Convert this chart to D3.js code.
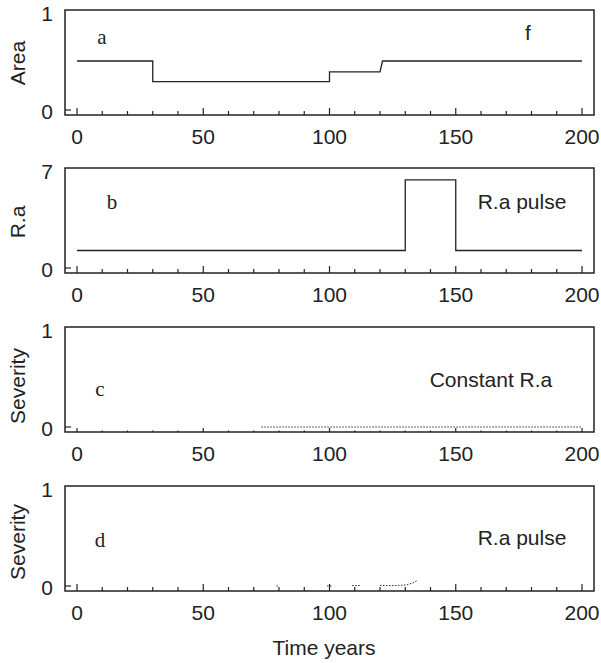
<!DOCTYPE html>
<html>
<head>
<meta charset="utf-8">
<script src="https://cdn.jsdelivr.net/npm/d3@7"></script>
<style>
  body { margin: 0; background: #fff; }
  svg { display: block; }
  .frame { fill: none; stroke: #222; stroke-width: 1.5; }
  .series { fill: none; stroke: #222; stroke-width: 1.3; }
  .trace { fill: none; stroke: #333; stroke-width: 1; stroke-dasharray: 1.5 1.5; }
  text { fill: #222; }
  .sans { font-family: "Liberation Sans", Arial, Helvetica, sans-serif; font-size: 21px; }
  .serif { font-family: "Liberation Serif", "Times New Roman", serif; font-size: 21px; }
</style>
</head>
<body>
<svg id="chart" width="601" height="663"></svg>
<script>
// Data
const xTicks = [0, 50, 100, 150, 200];
const minorTicks = d3.range(0, 201, 10);

// (a) area through time
const areaTime = [0, 30, 30, 100, 100, 120, 121, 200];
const areaValue = [0.5, 0.5, 0.29, 0.29, 0.39, 0.39, 0.5, 0.5];

// (b) R.a pulse
const raTime = [0, 130, 130, 150, 150, 200];
const raValue = [1.25, 1.25, 6.3, 6.3, 1.25, 1.25];

// (c) severity, constant R.a (near-zero trace)
const sevConstTime = [73, 200];
const sevConstValue = [0, 0];

// (d) severity, R.a pulse (short near-zero fragments)
const sevPulseSegments = [
  { time: [79, 80], value: [0, 0] },
  { time: [99, 101], value: [0, 0] },
  { time: [109, 112], value: [0.005, 0.005] },
  { time: [120, 126, 130, 133, 135], value: [0.005, 0.005, 0.01, 0.03, 0.06] }
];

const panels = [
  { top: 10, yMax: 1, yTitle: 'Area', titleY: 63, tick: [7, 4] },
  { top: 168, yMax: 7, yTitle: 'R.a', titleY: 222, tick: [7, 4] },
  { top: 327, yMax: 1, yTitle: 'Severity', titleY: 386, tick: [4, 1.5] },
  { top: 486, yMax: 1, yTitle: 'Severity', titleY: 542, tick: [7, 4] }
];

const PANEL_H = 105;
const BOX_LEFT = 65;
const BOX_RIGHT = 594;

const svg = d3.select('#chart');
const x = d3.scaleLinear().domain([0, 200]).range([77, 582]);

function drawPanel(p) {
  const bottom = p.top + PANEL_H;
  const y = d3.scaleLinear().domain([0, p.yMax]).range([bottom - 5, p.top + 2]);
  const g = svg.append('g');

  g.append('rect').attr('class', 'frame')
    .attr('x', BOX_LEFT).attr('y', p.top)
    .attr('width', BOX_RIGHT - BOX_LEFT).attr('height', PANEL_H);

  // x ticks, drawn inward from the bottom edge
  g.selectAll('.xt').data(minorTicks).join('line')
    .attr('x1', d => x(d)).attr('x2', d => x(d))
    .attr('y1', bottom)
    .attr('y2', d => bottom - (d % 50 === 0 ? p.tick[0] : p.tick[1]))
    .attr('stroke', '#222').attr('stroke-width', 1.2);

  g.selectAll('.xl').data(xTicks).join('text')
    .attr('class', 'sans')
    .attr('x', d => x(d)).attr('y', bottom + 29)
    .attr('text-anchor', 'middle')
    .text(d => d);

  // y: zero tick and two end labels
  g.append('line')
    .attr('x1', BOX_LEFT).attr('x2', BOX_LEFT + 6)
    .attr('y1', y(0)).attr('y2', y(0))
    .attr('stroke', '#222').attr('stroke-width', 1.2);

  g.selectAll('.yl').data([0, p.yMax]).join('text')
    .attr('class', 'sans')
    .attr('x', 53).attr('y', d => y(d) + 1)
    .attr('text-anchor', 'end')
    .attr('dominant-baseline', 'central')
    .text(d => d);

  g.append('text')
    .attr('class', 'sans')
    .attr('transform', `translate(25,${p.titleY}) rotate(-90)`)
    .attr('text-anchor', 'middle')
    .text(p.yTitle);

  return { g, y };
}

const line = (y) => d3.line().x(d => x(d[0])).y(d => y(d[1]));

// (a)
let pa = drawPanel(panels[0]);
pa.g.append('path').attr('class', 'series')
  .attr('d', line(pa.y)(d3.zip(areaTime, areaValue)));
pa.g.append('text').attr('class', 'serif').attr('x', 102).attr('y', 44)
  .attr('text-anchor', 'middle').text('a');
pa.g.append('text').attr('class', 'sans').attr('x', 528).attr('y', 40)
  .attr('text-anchor', 'middle').text('f');

// (b)
let pb = drawPanel(panels[1]);
pb.g.append('path').attr('class', 'series')
  .attr('d', line(pb.y)(d3.zip(raTime, raValue)));
pb.g.append('text').attr('class', 'serif').attr('x', 112).attr('y', 209)
  .attr('text-anchor', 'middle').text('b');
pb.g.append('text').attr('class', 'sans').attr('x', 522).attr('y', 209)
  .attr('text-anchor', 'middle').text('R.a pulse');

// (c)
let pc = drawPanel(panels[2]);
pc.g.append('path').attr('class', 'trace')
  .attr('d', line(pc.y)(d3.zip(sevConstTime, sevConstValue)));
pc.g.append('text').attr('class', 'serif').attr('x', 100).attr('y', 396)
  .attr('text-anchor', 'middle').text('c');
pc.g.append('text').attr('class', 'sans').attr('x', 491).attr('y', 387)
  .attr('text-anchor', 'middle').text('Constant R.a');

// (d)
let pd = drawPanel(panels[3]);
pd.g.selectAll('.seg').data(sevPulseSegments).join('path')
  .attr('class', 'trace')
  .attr('d', s => line(pd.y)(d3.zip(s.time, s.value)));
pd.g.append('text').attr('class', 'serif').attr('x', 100).attr('y', 547)
  .attr('text-anchor', 'middle').text('d');
pd.g.append('text').attr('class', 'sans').attr('x', 522).attr('y', 545)
  .attr('text-anchor', 'middle').text('R.a pulse');

svg.append('text').attr('class', 'sans')
  .attr('x', 324).attr('y', 655)
  .attr('text-anchor', 'middle').text('Time years');
</script>
</body>
</html>
